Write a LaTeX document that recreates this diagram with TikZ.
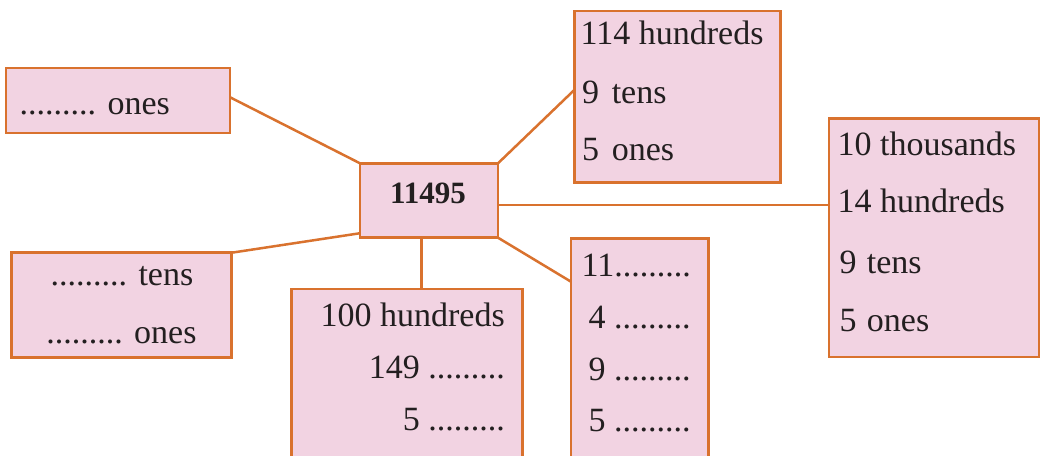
\documentclass[tikz,border=0pt]{standalone}
\usepackage{fontspec}
\setmainfont{Liberation Serif}
\usetikzlibrary{calc}
\definecolor{boxfill}{HTML}{F2D3E2}
\definecolor{boxline}{HTML}{D9722E}
\definecolor{txt}{HTML}{231F20}
\begin{document}
\begin{tikzpicture}[x=1pt,y=-1pt,
  box/.style={draw=boxline, fill=boxfill, line width=2.8pt, rectangle, inner sep=0pt, outer sep=0pt, anchor=north west},
  link/.style={draw=boxline, line width=2.5pt},
  lbl/.style={inner sep=0pt, text=txt, font=\fontsize{34}{40}\selectfont},
  bold/.style={inner sep=0pt, text=txt, font=\fontsize{31}{36}\selectfont\bfseries}
]
\useasboundingbox (0,0) rectangle (1041,455);
\clip (0,0) rectangle (1041,455);

% boxes
\node[box, minimum width=224pt, minimum height=65pt] (A) at (6,68) {};
\node[box, minimum width=220pt, minimum height=104.6pt] (B) at (11.7,252.7) {};
\node[box, minimum width=138pt, minimum height=74.4pt] (C) at (360,163.3) {};
\node[box, minimum width=206.4pt, minimum height=171.7pt] (D) at (574.3,11) {};
\node[box, minimum width=210pt, minimum height=238.7pt] (E) at (829,118.3) {};
\node[box, minimum width=231pt, minimum height=200pt] (F) at (291.7,289) {};
\node[box, minimum width=137.3pt, minimum height=250pt] (G) at (571,238.3) {};

% connectors
\draw[link] ($(A.north east)!0.45!(A.south east)$) -- (C.north west);
\draw[link] (C.north east) -- ($(D.north west)!0.46!(D.south west)$);
\draw[link] ($(C.north east)!0.56!(C.south east)$) coordinate (ce) -- (ce -| E.west);
\draw[link] ($(C.north west)!0.94!(C.south west)$) -- (B.north east);
\draw[link] ($(C.south west)!0.447!(C.south east)$) coordinate (cs) -- (cs |- F.north);
\draw[link] (C.south east) -- ([yshift=-43.4pt]G.north west);

% texts
\node[lbl, anchor=base west] (a1) at (19.5,114) {......... ones};

\node[lbl, anchor=base] (b1) at (122,285) {......... tens};
\node[lbl, anchor=base] (b2) at (121.5,343.3) {......... ones};

\node[bold, anchor=base] (c1) at (428,203.3) {11495};

\node[lbl, anchor=base west] (d1) at (580.5,44) {114 hundreds};
\node[lbl, anchor=base west] (d2) at (582,103) {9\hspace{0.37em}tens};
\node[lbl, anchor=base west] (d3) at (582,160.7) {5\hspace{0.37em}ones};

\node[lbl, anchor=base west] (e1) at (837.5,155) {10 thousands};
\node[lbl, anchor=base west] (e2) at (837.5,212.7) {14 hundreds};
\node[lbl, anchor=base west] (e3) at (839.5,273) {9\hspace{0.3em}tens};
\node[lbl, anchor=base west] (e4) at (839.5,331.7) {5\hspace{0.3em}ones};

\node[lbl, anchor=base east] (f1) at (505,326.7) {100 hundreds};
\node[lbl, anchor=base east] (f2) at (505,378.3) {149 .........};
\node[lbl, anchor=base east] (f3) at (505,430) {5 .........};

\node[lbl, anchor=base east] (g1) at (691,276.7) {11.........};
\node[lbl, anchor=base east] (g2) at (690.7,328.3) {4 .........};
\node[lbl, anchor=base east] (g3) at (690.7,380) {9 .........};
\node[lbl, anchor=base east] (g4) at (690.7,431.7) {5 .........};
\end{tikzpicture}
\end{document}
